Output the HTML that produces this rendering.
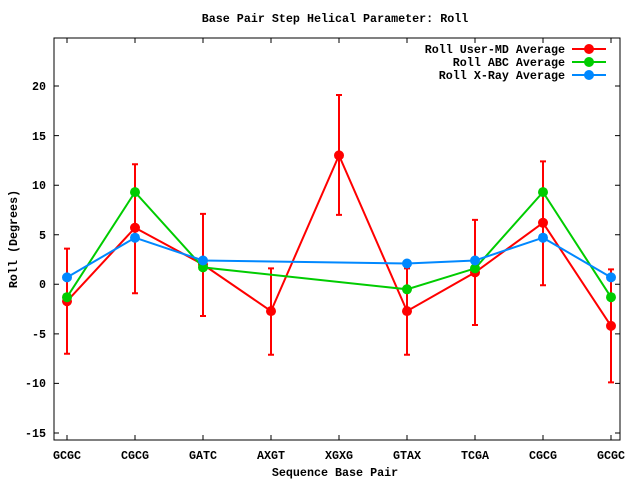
<!DOCTYPE html>
<html><head><style>body{margin:0;background:#fff}svg{display:block}text{font-family:"Liberation Mono",monospace;font-weight:bold;font-size:11.7px;fill:#000}</style></head><body>
<svg width="640" height="480" xmlns="http://www.w3.org/2000/svg">
<rect width="640" height="480" fill="#fff"/>
<text x="335" y="22" text-anchor="middle">Base Pair Step Helical Parameter: Roll</text>
<rect x="54" y="38" width="566" height="402" fill="none" stroke="#000" stroke-width="1"/>
<g stroke="#000" stroke-width="1">
<path d="M54 433h5M615 433h5M54 383.4h5M615 383.4h5M54 333.9h5M615 333.9h5M54 284.3h5M615 284.3h5M54 234.7h5M615 234.7h5M54 185.2h5M615 185.2h5M54 135.6h5M615 135.6h5M54 86h5M615 86h5"/>
<path d="M67 440v-5M135 440v-5M203 440v-5M271 440v-5M339 440v-5M407 440v-5M475 440v-5M543 440v-5M611 440v-5M67 38v5M135 38v5M203 38v5M271 38v5M339 38v5M407 38v5M475 38v5M543 38v5M611 38v5"/>
</g>
<g text-anchor="end">
<text x="46" y="437">-15</text><text x="46" y="387">-10</text><text x="46" y="338">-5</text><text x="46" y="288">0</text><text x="46" y="239">5</text><text x="46" y="189">10</text><text x="46" y="140">15</text><text x="46" y="90">20</text>
</g>
<g text-anchor="middle">
<text x="67" y="459">GCGC</text><text x="135" y="459">CGCG</text><text x="203" y="459">GATC</text><text x="271" y="459">AXGT</text><text x="339" y="459">XGXG</text><text x="407" y="459">GTAX</text><text x="475" y="459">TCGA</text><text x="543" y="459">CGCG</text><text x="611" y="459">GCGC</text>
</g>
<text x="335" y="476" text-anchor="middle">Sequence Base Pair</text>
<text transform="translate(17,239) rotate(-90)" text-anchor="middle">Roll (Degrees)</text>
<path stroke="#f00" stroke-width="2" fill="none" d="M67 353.7V248.6M64 353.7h6M64 248.6h6M135 293.2V164.3M132 293.2h6M132 164.3h6M203 316V213.9M200 316h6M200 213.9h6M271 354.7V268.4M268 354.7h6M268 268.4h6M339 214.9V95M336 214.9h6M336 95h6M407 354.7V268.4M404 354.7h6M404 268.4h6M475 325V219.9M472 325h6M472 219.9h6M543 285.3V161.4M540 285.3h6M540 161.4h6M611 382.4V269.4M608 382.4h6M608 269.4h6"/>
<polyline fill="none" stroke="#f00" stroke-width="2" points="67,301.2 135,227.8 203,264.5 271,311.1 339,155.4 407,311.1 475,272.4 543,222.8 611,325.9"/>
<g fill="#f00"><circle cx="67" cy="301.2" r="5"/><circle cx="135" cy="227.8" r="5"/><circle cx="203" cy="264.5" r="5"/><circle cx="271" cy="311.1" r="5"/><circle cx="339" cy="155.4" r="5"/><circle cx="407" cy="311.1" r="5"/><circle cx="475" cy="272.4" r="5"/><circle cx="543" cy="222.8" r="5"/><circle cx="611" cy="325.9" r="5"/></g>
<polyline fill="none" stroke="#0c0" stroke-width="2" points="67,297.2 135,192.1 203,267.4 407,289.3 475,268.4 543,192.1 611,297.2"/>
<g fill="#0c0"><circle cx="67" cy="297.2" r="5"/><circle cx="135" cy="192.1" r="5"/><circle cx="203" cy="267.4" r="5"/><circle cx="407" cy="289.3" r="5"/><circle cx="475" cy="268.4" r="5"/><circle cx="543" cy="192.1" r="5"/><circle cx="611" cy="297.2" r="5"/></g>
<polyline fill="none" stroke="#08f" stroke-width="2" points="67,277.4 135,237.7 203,260.5 407,263.5 475,260.5 543,237.7 611,277.4"/>
<g fill="#08f"><circle cx="67" cy="277.4" r="5"/><circle cx="135" cy="237.7" r="5"/><circle cx="203" cy="260.5" r="5"/><circle cx="407" cy="263.5" r="5"/><circle cx="475" cy="260.5" r="5"/><circle cx="543" cy="237.7" r="5"/><circle cx="611" cy="277.4" r="5"/></g>
<text x="565" y="53" text-anchor="end">Roll User-MD Average</text>
<text x="565" y="66" text-anchor="end">Roll ABC Average</text>
<text x="565" y="79" text-anchor="end">Roll X-Ray Average</text>
<line x1="572" y1="49" x2="606" y2="49" stroke="#f00" stroke-width="2"/><circle cx="589" cy="49" r="5" fill="#f00"/>
<line x1="572" y1="62" x2="606" y2="62" stroke="#0c0" stroke-width="2"/><circle cx="589" cy="62" r="5" fill="#0c0"/>
<line x1="572" y1="75" x2="606" y2="75" stroke="#08f" stroke-width="2"/><circle cx="589" cy="75" r="5" fill="#08f"/>
</svg></body></html>
